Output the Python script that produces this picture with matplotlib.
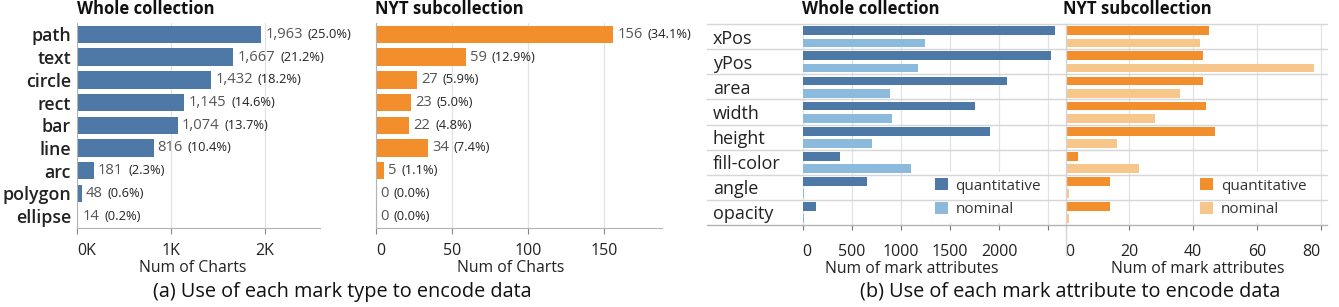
import numpy as np
import matplotlib.pyplot as plt

plt.rcParams['font.family'] = ['Open Sans', 'DejaVu Sans']

# (a) mark types
mark_types = ['path', 'text', 'circle', 'rect', 'bar', 'line', 'arc', 'polygon', 'ellipse']
whole_counts = [1963, 1667, 1432, 1145, 1074, 816, 181, 48, 14]
whole_pcts = ['25.0%', '21.2%', '18.2%', '14.6%', '13.7%', '10.4%', '2.3%', '0.6%', '0.2%']
nyt_counts = [156, 59, 27, 23, 22, 34, 5, 0, 0]
nyt_pcts = ['34.1%', '12.9%', '5.9%', '5.0%', '4.8%', '7.4%', '1.1%', '0.0%', '0.0%']

# (b) mark attributes
attributes = ['xPos', 'yPos', 'area', 'width', 'height', 'fill-color', 'angle', 'opacity']
whole_quant = [2570, 2525, 2080, 1755, 1910, 375, 650, 140]
whole_nom = [1245, 1175, 885, 910, 710, 1105, 10, 15]
nyt_quant = [45, 43, 43, 44, 47, 4, 14, 14]
nyt_nom = [42, 78, 36, 28, 16, 23, 1, 1]

BLUE, LBLUE = '#4e79a7', '#8cbadc'
ORANGE, LORANGE = '#f28e2b', '#f7c68b'
GRID, AXIS, SEP = '#e2e2e2', '#b3b3b3', '#d6d6d6'

W, H = 1339, 307
fig = plt.figure(figsize=(W / 100, H / 100), dpi=100)


def box(x0, y0, x1, y1):
    # pixel box (top-left origin) -> figure fraction
    return [x0 / W, 1 - y1 / H, (x1 - x0) / W, (y1 - y0) / H]


def style_axes(ax, ticks, labels, xmax):
    ax.set_xlim(0, xmax)
    ax.set_xticks(ticks)
    ax.set_xticklabels(labels)
    ax.get_xticklabels()[0].set_horizontalalignment('left')
    ax.grid(axis='x', color=GRID, lw=0.9)
    ax.set_axisbelow(True)
    for s in ['top', 'right']:
        ax.spines[s].set_visible(False)


def mark_panel(ax, counts, pcts, color, xmax, ticks, labels, show_y):
    y = np.arange(len(mark_types))
    ax.barh(y, counts, height=0.77, color=color, zorder=2)
    ax.set_ylim(len(mark_types) - 0.5, -0.5)
    style_axes(ax, ticks, labels, xmax)
    for s in ['left', 'bottom']:
        ax.spines[s].set_color(AXIS)
    ax.set_yticks(y)
    if show_y:
        ax.set_yticklabels(mark_types, fontsize=12.8, fontweight='semibold', color='#222')
    else:
        ax.set_yticklabels([])
    ax.tick_params(axis='y', length=0, pad=4.3)
    ax.tick_params(axis='x', length=4, color='#888', pad=7, labelsize=11.5, labelcolor='#222')
    for yi, c, p in zip(y, counts, pcts):
        t = ax.annotate(f'{c:,}', xy=(c, yi), xytext=(3, 0), textcoords='offset points',
                        ha='left', va='center', fontsize=10.6, color='#555')
        ax.annotate(f'({p})', xy=(1, 0.5), xycoords=t, xytext=(3.5, 0), textcoords='offset points',
                    ha='left', va='center', fontsize=9.3, color='#222')
    ax.set_xlabel('Num of Charts', fontsize=11.3, color='#222')
    ax.xaxis.set_label_coords(0.475, -0.16)
    ax.xaxis.label.set_va('top')


def attr_panel(ax, quant, nom, cq, cn, xmax, ticks, labels, show_y, sep_xmin, leg_x):
    y = np.arange(len(attributes))
    ax.barh(y - 0.235, quant, height=0.35, color=cq, label='quantitative', zorder=2)
    ax.barh(y + 0.255, nom, height=0.35, color=cn, label='nominal', zorder=2)
    ax.set_ylim(len(attributes) - 0.5, -0.5)
    style_axes(ax, ticks, labels, xmax)
    ax.spines['left'].set_visible(False)
    ax.spines['bottom'].set_visible(False)
    for b in np.arange(-0.5, len(attributes) - 1, 1.0):
        ax.axhline(b, xmin=sep_xmin, xmax=1, color=SEP, lw=1, clip_on=False, zorder=6)
    ax.axhline(len(attributes) - 0.5, xmin=sep_xmin, xmax=1, color=AXIS, lw=1, clip_on=False, zorder=6)
    ax.set_yticks(y)
    if show_y:
        ax.set_yticklabels(attributes, fontsize=13, color='#222', ha='left')
        ax.tick_params(axis='y', length=0, pad=64.6)
    else:
        ax.set_yticklabels([])
        ax.tick_params(axis='y', length=0)
        ax.plot([0, 0], [1, -0.15], transform=ax.transAxes, color=SEP, lw=1, clip_on=False)
    ax.tick_params(axis='x', length=3.4, color='#777', pad=10, labelsize=11.5, labelcolor='#222')
    leg = ax.legend(loc='lower left', bbox_to_anchor=(leg_x, 0.0), borderaxespad=0.1,
                    frameon=True, facecolor='white', edgecolor='none', framealpha=1,
                    fontsize=11, handlelength=0.85, handleheight=0.85, handletextpad=0.5,
                    labelspacing=0.55, borderpad=0.4)
    leg.set_zorder(5)
    for t in leg.get_texts():
        t.set_color('#333')
    ax.set_xlabel('Num of mark attributes', fontsize=11.3, color='#222')
    ax.xaxis.label.set_va('top')


a1 = fig.add_axes(box(77, 23, 320, 227.5))
mark_panel(a1, whole_counts, whole_pcts, BLUE, 2590, [0, 1000, 2000], ['0K', '1K', '2K'], True)
a2 = fig.add_axes(box(376, 23, 662, 227.5))
mark_panel(a2, nyt_counts, nyt_pcts, ORANGE, 188, [0, 50, 100, 150], ['0', '50', '100', '150'], False)
a2.xaxis.set_label_coords(0.472, -0.16)

b1 = fig.add_axes(box(802.7, 24, 1065, 225))
attr_panel(b1, whole_quant, whole_nom, BLUE, LBLUE, 2670,
           [0, 500, 1000, 1500, 2000, 2500], ['0', '500', '1000', '1500', '2000', ''],
           True, -0.365, 0.475)
b1.xaxis.set_label_coords(0.414, -0.18)
b2 = fig.add_axes(box(1065.7, 24, 1327, 225))
attr_panel(b2, nyt_quant, nyt_nom, ORANGE, LORANGE, 82,
           [0, 20, 40, 60, 80], ['0', '20', '40', '60', '80'], False, 0.0, 0.485)
b2.get_xticklabels()[-1].set_horizontalalignment('right')
b2.xaxis.set_label_coords(0.506, -0.18)

# panel titles
for x, title in [(77, 'Whole collection'), (375, 'NYT subcollection'),
                 (801.7, 'Whole collection'), (1062.7, 'NYT subcollection')]:
    fig.text(x / W, 1 - 0.5 / H, title, ha='left', va='top', fontsize=12, fontweight='bold', color='#111')

fig.text(342.7 / W, 1 - 292 / H, '(a) Use of each mark type to encode data',
         ha='center', va='center', fontsize=14.3, color='#111')
fig.text(1070.5 / W, 1 - 292 / H, '(b) Use of each mark attribute to encode data',
         ha='center', va='center', fontsize=14.3, color='#111')

fig.savefig('out.png', dpi=100, facecolor='white')
